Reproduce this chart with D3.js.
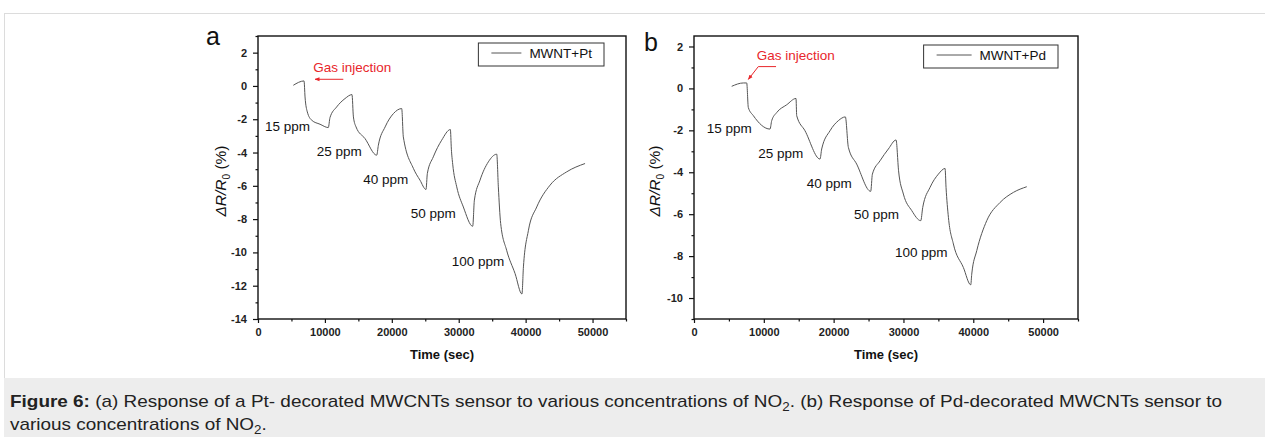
<!DOCTYPE html>
<html>
<head>
<meta charset="utf-8">
<script src="https://cdn.jsdelivr.net/npm/d3@7"></script>
<style>
  body { margin: 0; background: #fff; }
  svg text { font-family: "Liberation Sans", Arial, sans-serif; }
</style>
</head>
<body>
<svg id="fig" width="1265" height="437"></svg>
<script>
// ---- data ----
const xTicks = [0, 10000, 20000, 30000, 40000, 50000];
const xMinorTicks = [5000, 15000, 25000, 35000, 45000, 55000];

// (a) MWNT+Pt
const timeA = [5280, 6880, 7030, 7370, 8030, 9270, 10510, 10760, 11760, 13000, 14050,
  14260, 14650, 15990, 17740, 17990, 19000, 20240, 21480, 21720, 23220, 24210, 25110,
  25310, 26200, 27450, 28750, 28900, 29100, 29700, 30690, 32090, 32340, 33180, 34430,
  35680, 35920, 36270, 37160, 38420, 39450, 39670, 40420, 41660, 43650, 46140, 48880];
const respA = [0.04, 0.30, -0.66, -1.56, -2.06, -2.30, -2.50, -1.90, -1.26, -0.76, -0.52,
  -1.86, -2.46, -3.16, -4.16, -3.56, -2.46, -1.66, -1.36, -3.06, -4.95, -5.66, -6.22,
  -5.26, -4.26, -3.26, -2.62, -3.80, -4.70, -6.06, -7.27, -8.43, -6.86, -5.66, -4.56,
  -4.10, -6.06, -8.27, -9.87, -11.27, -12.50, -10.87, -8.67, -7.27, -5.96, -5.16, -4.66];
const yTicksA = [-14, -12, -10, -8, -6, -4, -2, 0, 2];
const yMinorA = [-13, -11, -9, -7, -5, -3, -1, 1, 3];

// (b) MWNT+Pd
const timeB = [5400, 7070, 7550, 7780, 8500, 10890, 11130, 11850, 13280, 14610, 14710,
  15900, 18050, 18290, 19480, 20670, 21680, 22110, 23300, 25310, 25550, 26650, 27840,
  28940, 29300, 29990, 31190, 32480, 32760, 33810, 35000, 35960, 36100, 36440, 37150,
  38580, 39640, 39780, 40500, 41930, 43840, 45750, 47660];
const respB = [0.10, 0.26, 0.26, -0.91, -1.30, -1.94, -1.54, -1.15, -0.78, -0.48, -1.30,
  -2.02, -3.37, -2.89, -2.02, -1.54, -1.36, -2.81, -3.61, -4.91, -4.09, -3.45, -2.89,
  -2.46, -3.93, -5.04, -5.83, -6.31, -5.68, -4.72, -4.09, -3.82, -4.72, -6.15, -7.42,
  -8.54, -9.37, -8.86, -7.74, -6.31, -5.44, -4.96, -4.69];
const yTicksB = [-10, -8, -6, -4, -2, 0, 2];
const yMinorB = [-11, -9, -7, -5, -3, -1, 1];

// concentration labels, anchored in data units (time, response)
const concLabels = ['15 ppm', '25 ppm', '40 ppm', '50 ppm', '100 ppm'];
const labelTimeA = [1050, 8770, 15740, 22830, 28950];
const labelRespA = [-2.69, -4.19, -5.89, -7.95, -10.8];
const labelTimeB = [1820, 9210, 16150, 22920, 28800];
const labelRespB = [-2.11, -3.33, -4.74, -6.23, -8.06];

// "Gas injection" note: text anchor and arrow path in data units
const gasTextA = [8270, 0.86];
const gasArrowA = [[12750, 0.40], [8520, 0.40]];
const gasTextB = [8980, 1.36];
const gasArrowB = [[11750, 1.04], [9210, 1.04], [7780, 0.43]];

const svg = d3.select('#fig');
const ink = '#555';
const red = '#e8262b';

// page frame and caption band
svg.append('rect').attr('x', 4.5).attr('y', 13.5).attr('width', 1270).attr('height', 430)
  .attr('fill', '#fff').attr('stroke', '#dcdcdc');
svg.append('rect').attr('x', 4).attr('y', 378).attr('width', 1261).attr('height', 59)
  .attr('fill', '#ededed');

const defs = svg.append('defs');
defs.append('marker').attr('id', 'arrowRed')
  .attr('viewBox', '0 0 10 10').attr('refX', 9).attr('refY', 5)
  .attr('markerWidth', 5).attr('markerHeight', 5).attr('orient', 'auto')
  .append('path').attr('d', 'M0,1 L10,5 L0,9 Z').attr('fill', red);

function drawPanel(p) {
  const g = svg.append('g');
  const x = d3.scaleLinear().domain([0, 55000]).range([p.left, p.right]);
  const y = d3.scaleLinear().domain(p.yDomain).range([p.bottom, p.top]);
  const plain = d => String(d);

  // axes
  g.append('g').attr('transform', `translate(0,${p.bottom})`)
    .call(d3.axisBottom(x).tickValues(xTicks).tickFormat(plain)
      .tickSize(4).tickPadding(5).tickSizeOuter(0));
  g.append('g').attr('transform', `translate(0,${p.bottom})`)
    .call(d3.axisBottom(x).tickValues(xMinorTicks).tickSize(2.5).tickFormat('').tickSizeOuter(0));
  g.append('g').attr('transform', `translate(${p.left},0)`)
    .call(d3.axisLeft(y).tickValues(p.yTicks).tickFormat(plain)
      .tickSize(5).tickPadding(6).tickSizeOuter(0));
  g.append('g').attr('transform', `translate(${p.left},0)`)
    .call(d3.axisLeft(y).tickValues(p.yMinor).tickSize(2.5).tickFormat('').tickSizeOuter(0));
  g.selectAll('.domain').remove();
  g.selectAll('.tick line').attr('stroke', '#111').attr('stroke-width', 1.2);
  g.selectAll('.tick text').attr('fill', '#222').style('font-size', '11px').style('font-weight', 'bold');

  // frame
  g.append('rect').attr('x', p.left).attr('y', p.top)
    .attr('width', p.right - p.left).attr('height', p.bottom - p.top)
    .attr('fill', 'none').attr('stroke', '#111').attr('stroke-width', 1.4);

  // curve
  const line = d3.line().x(d => x(d[0])).y(d => y(d[1])).curve(d3.curveMonotoneX);
  g.append('path').datum(p.time.map((t, i) => [t, p.resp[i]]))
    .attr('d', line).attr('fill', 'none').attr('stroke', ink).attr('stroke-width', 1);

  // concentration labels
  g.selectAll('.conc').data(concLabels).enter().append('text')
    .attr('class', 'conc')
    .attr('x', (d, i) => x(p.labelTime[i]))
    .attr('y', (d, i) => y(p.labelResp[i]))
    .attr('fill', '#111').style('font-size', '13.5px')
    .text(d => d);

  // gas injection note
  g.append('text').attr('x', x(p.gasText[0])).attr('y', y(p.gasText[1]))
    .attr('fill', red).style('font-size', '13.5px').text('Gas injection');
  g.append('path').datum(p.gasArrow)
    .attr('d', d3.line().x(d => x(d[0])).y(d => y(d[1])))
    .attr('fill', 'none').attr('stroke', red).attr('stroke-width', 1)
    .attr('marker-end', 'url(#arrowRed)');

  // legend
  const lg = g.append('g');
  const lt = lg.append('text').attr('fill', '#111').style('font-size', '13.5px').text(p.legend);
  const tw = lt.node().getComputedTextLength();
  const boxW = 13 + p.legendLine + 8 + tw + 12;
  const bx = p.right - p.legendRight - boxW, by = p.top + p.legendTop;
  lg.insert('rect', 'text').attr('x', bx).attr('y', by).attr('width', boxW).attr('height', 23)
    .attr('fill', '#fff').attr('stroke', '#333').attr('stroke-width', 1);
  lg.append('line').attr('x1', bx + 13).attr('x2', bx + 13 + p.legendLine)
    .attr('y1', by + 10).attr('y2', by + 10).attr('stroke', ink).attr('stroke-width', 1);
  lt.attr('x', bx + 13 + p.legendLine + 8).attr('y', by + 15);

  // axis titles
  g.append('text').attr('x', (p.left + p.right) / 2).attr('y', p.bottom + 40)
    .attr('text-anchor', 'middle').attr('fill', '#111')
    .style('font-size', '13px').style('font-weight', 'bold').text('Time (sec)');

  const yt = g.append('text')
    .attr('transform', `translate(${p.left - p.yTitleOffset},181) rotate(-90)`)
    .attr('text-anchor', 'middle').attr('fill', '#111').style('font-size', '15.5px');
  yt.append('tspan').style('font-style', 'italic').text('\u0394R/R');
  yt.append('tspan').attr('dy', 4).style('font-size', '10px').text('0');
  yt.append('tspan').attr('dy', -4).text(' (%)');

  // panel letter
  g.append('text').attr('x', p.letterX).attr('y', p.letterY)
    .attr('fill', '#111').style('font-size', '25px').text(p.letter);
}

drawPanel({
  left: 258, right: 626, top: 36, bottom: 319, yDomain: [-14, 3],
  yTicks: yTicksA, yMinor: yMinorA, time: timeA, resp: respA,
  labelTime: labelTimeA, labelResp: labelRespA,
  gasText: gasTextA, gasArrow: gasArrowA,
  legend: 'MWNT+Pt', legendLine: 30, legendRight: 22, legendTop: 7,
  yTitleOffset: 32, letter: 'a', letterX: 206, letterY: 45
});
drawPanel({
  left: 694, right: 1078, top: 36, bottom: 319, yDomain: [-11, 2.5],
  yTicks: yTicksB, yMinor: yMinorB, time: timeB, resp: respB,
  labelTime: labelTimeB, labelResp: labelRespB,
  gasText: gasTextB, gasArrow: gasArrowB,
  legend: 'MWNT+Pd', legendLine: 35, legendRight: 20, legendTop: 9,
  yTitleOffset: 34, letter: 'b', letterX: 644, letterY: 51
});

// caption: first line fills the paragraph width, second line gets the same stretch
const capSize = 17;
const cap1 = svg.append('text').attr('x', 10).attr('y', 407).attr('fill', '#222')
  .style('font-size', capSize + 'px');
cap1.append('tspan').style('font-weight', 'bold').text('Figure 6:');
cap1.append('tspan').text(' (a) Response of a Pt- decorated MWCNTs sensor to various concentrations of NO');
cap1.append('tspan').attr('dy', 4).style('font-size', '12px').text('2');
cap1.append('tspan').attr('dy', -4).text('. (b) Response of Pd-decorated MWCNTs sensor to');
const stretch = 1212 / cap1.node().getComputedTextLength();
cap1.attr('textLength', 1212).attr('lengthAdjust', 'spacingAndGlyphs');

const cap2 = svg.append('text').attr('x', 10).attr('y', 430).attr('fill', '#222')
  .style('font-size', capSize + 'px');
cap2.append('tspan').text('various concentrations of NO');
cap2.append('tspan').attr('dy', 4).style('font-size', '12px').text('2');
cap2.append('tspan').attr('dy', -4).text('.');
cap2.attr('textLength', cap2.node().getComputedTextLength() * stretch)
  .attr('lengthAdjust', 'spacingAndGlyphs');
</script>
</body>
</html>
